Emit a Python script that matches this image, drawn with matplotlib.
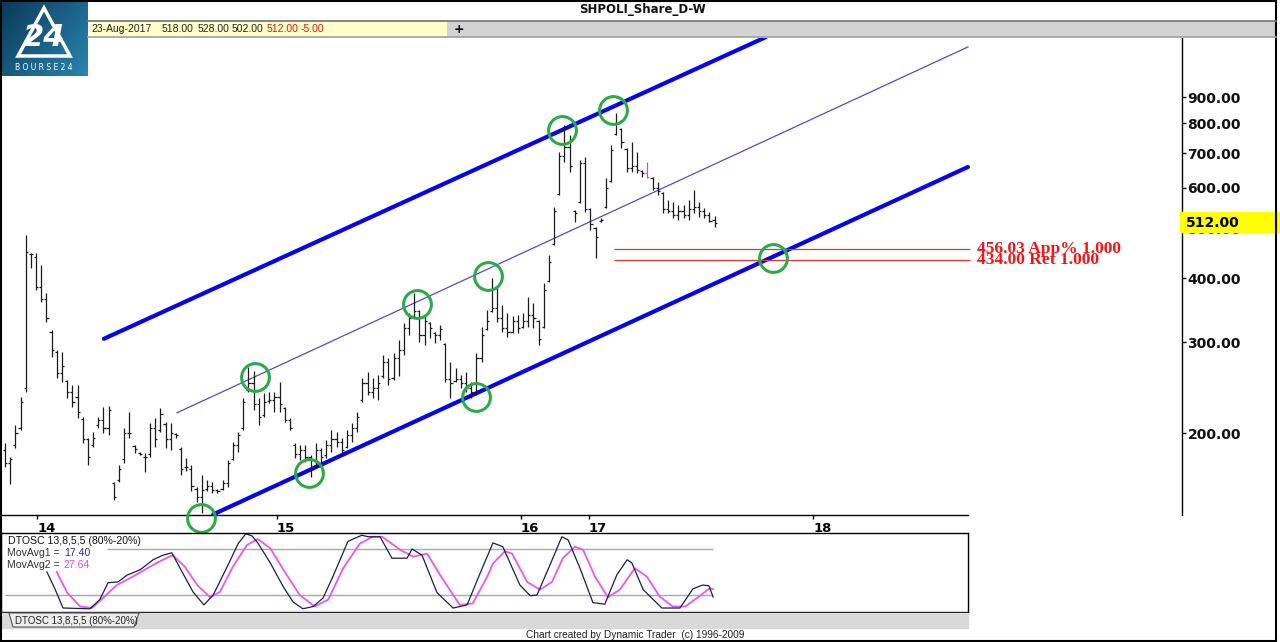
import numpy as np
import matplotlib
matplotlib.use("Agg")
import matplotlib.pyplot as plt
import matplotlib.transforms as mtransforms
from matplotlib.patches import Rectangle, Polygon
from matplotlib.ticker import NullLocator

# ------------------------------------------------------------------
# Weekly OHLC bars (SHPOLI), oldest first
# ------------------------------------------------------------------
highs = [191, 180, 207, 235, 485, 448, 448, 424, 374, 317,
         290, 287, 254, 248, 248, 215, 196, 201, 215, 225,
         226, 161, 173, 205, 220, 190, 184, 183, 209, 214,
         224, 210, 209, 200, 188, 179, 173, 157, 166, 162,
         161, 156, 162, 177, 192, 201, 234, 269, 264, 234,
         239, 240, 240, 251, 225, 214, 191, 190, 190, 181,
         191, 187, 194, 203, 201, 196, 203, 209, 220, 256,
         263, 256, 259, 284, 280, 286, 303, 327, 342, 374,
         347, 339, 329, 314, 324, 299, 275, 268, 259, 263,
         251, 286, 321, 347, 400, 383, 355, 342, 338, 339,
         342, 368, 358, 332, 391, 444, 550, 704, 794, 759,
         543, 679, 688, 548, 503, 524, 626, 726, 838, 783,
         716, 736, 704, 649, 673, 629, 615, 588, 568, 562,
         555, 555, 568, 593, 562, 548, 538, 528]
lows = [172, 159, 187, 203, 240, 419, 379, 359, 329, 281,
        256, 251, 234, 225, 214, 191, 173, 188, 205, 200,
        198, 148, 161, 175, 196, 183, 181, 168, 180, 188,
        201, 187, 185, 196, 166, 169, 154, 147, 140, 154,
        153, 153, 155, 157, 177, 184, 203, 240, 222, 207,
        215, 229, 220, 220, 210, 203, 179, 177, 176, 164,
        171, 173, 179, 184, 188, 181, 187, 192, 201, 230,
        237, 234, 232, 256, 248, 254, 258, 284, 310, 335,
        301, 297, 306, 299, 303, 251, 234, 251, 245, 240,
        234, 237, 275, 317, 344, 329, 314, 307, 313, 313,
        320, 321, 320, 297, 320, 393, 464, 580, 673, 643,
        514, 560, 538, 496, 438, 514, 548, 615, 759, 716,
        643, 643, 640, 629, 626, 593, 580, 535, 535, 524,
        519, 524, 519, 535, 526, 524, 515, 502]
opens = [185, 175, 190, 205, 245, 446, 440, 385, 365, 315,
         288, 262, 252, 240, 235, 213, 195, 190, 207, 212,
         205, 160, 162, 178, 200, 189, 183, 180, 182, 205,
         203, 208, 195, 199, 186, 172, 170, 156, 150, 156,
         158, 155, 156, 160, 178, 190, 205, 242, 250, 228,
         217, 231, 232, 235, 224, 212, 190, 182, 185, 180,
         173, 185, 181, 190, 195, 192, 188, 198, 205, 232,
         250, 240, 245, 258, 275, 256, 280, 290, 320, 338,
         345, 310, 328, 313, 310, 298, 255, 252, 255, 250,
         245, 240, 280, 318, 345, 350, 335, 320, 315, 330,
         321, 330, 340, 330, 322, 395, 466, 582, 690, 720,
         540, 562, 670, 545, 500, 516, 550, 618, 762, 780,
         712, 655, 660, 645, 640, 626, 600, 585, 545, 540,
         530, 540, 530, 545, 550, 540, 530, 518]
closes = [175, 178, 200, 230, 450, 445, 385, 365, 335, 290,
          262, 270, 240, 230, 220, 195, 180, 196, 212, 205,
          222, 150, 170, 200, 200, 186, 182, 180, 205, 195,
          218, 195, 200, 198, 170, 172, 158, 150, 155, 158,
          155, 154, 160, 175, 190, 198, 230, 250, 228, 215,
          230, 232, 235, 228, 212, 205, 182, 185, 180, 170,
          185, 180, 190, 195, 192, 185, 198, 205, 215, 250,
          240, 245, 250, 275, 255, 280, 290, 320, 335, 345,
          310, 330, 320, 310, 318, 255, 250, 255, 250, 245,
          240, 280, 310, 330, 350, 335, 320, 315, 330, 320,
          330, 340, 335, 305, 380, 430, 540, 690, 720, 660,
          535, 670, 545, 510, 480, 520, 600, 710, 800, 735,
          655, 660, 650, 640, 630, 600, 590, 545, 540, 530,
          540, 530, 545, 550, 540, 530, 517, 512]
highlight_bar = 124
last_date = "23-Aug-2017"

# year ticks (bar index) and labels
year_pos = [6.2, 52.5, 99.6, 112.7, 156.0]
year_lbl = ["14", "15", "16", "17", "18"]
price_ticks = [200, 300, 400, 500, 600, 700, 800, 900]

# channel lines: (bar index, price) anchors
upper_line = [(19.1, 305.0), (146.9, 1177.0)]
lower_line = [(40.2, 139.0), (185.9, 658.0)]
middle_line = [(33.2, 219.0), (185.9, 1126.0)]

# green circles at the channel touches
circle_x = [37.8, 48.3, 58.7, 79.5, 90.9, 93.2, 107.5, 117.4, 148.3]
circle_p = [137, 257, 167, 356, 235, 404, 776, 849, 438]

# projection levels
fib_levels = [456.03, 434.00]
fib_labels = ["456.03 App% 1.000", "434.00 Ret 1.000"]
fib_start, fib_end = 117.6, 186.3

# DTOSC oscillator
fast_x = [8.1, 9.7, 11.2, 16.4, 18.3, 19.9, 21.8, 23.6, 26.1, 28.6, 30.5, 32.2,
          34.2, 36.3, 38.4, 40.2, 42.9, 45.0, 46.5, 47.7, 48.8, 51.2, 53.7, 55.6,
          57.5, 59.5, 61.4, 63.3, 66.2, 68.9, 70.1, 72.4, 74.7, 77.6, 78.6, 80.5,
          83.4, 86.5, 89.2, 91.7, 94.2, 96.1, 99.4, 101.4, 102.7, 105.2, 107.5,
          108.7, 111.0, 113.5, 115.8, 118.1, 120.1, 121.0, 123.2, 126.8, 130.3,
          132.8, 134.7, 135.9, 136.7]
fast_v = [50, 27, 3, 2, 14, 36, 37, 46, 53, 66, 72, 75,
          50, 24, 7, 20, 57, 87, 100, 97, 88, 62, 31, 11,
          2, 5, 16, 44, 90, 98, 96, 96, 68, 68, 80, 72,
          23, 3, 7, 48, 88, 83, 33, 19, 20, 59, 96,
          92, 55, 10, 8, 46, 66, 62, 27, 3, 3,
          28, 33, 32, 17.40]
slow_x = [10.0, 12.0, 14.5, 16.8, 18.9, 21.6, 24.7, 28.0, 30.5, 32.4, 34.7, 37.1,
          39.6, 41.5, 44.0, 46.7, 48.8, 51.2, 54.4, 56.9, 59.8, 62.4, 65.3, 68.5,
          71.0, 72.8, 76.3, 78.8, 81.5, 84.0, 87.8, 90.3, 93.1, 94.2, 96.5, 97.9,
          100.8, 103.3, 105.6, 107.7, 110.0, 111.6, 113.9, 116.4, 118.7, 121.6,
          123.9, 126.4, 128.9, 131.3, 133.6, 136.1, 136.7]
slow_v = [50, 23, 5, 3, 16, 33, 44, 57, 66, 72, 57, 33,
          17, 24, 57, 85, 93, 81, 46, 20, 5, 14, 55, 87,
          96, 96, 79, 70, 74, 46, 7, 9, 44, 61, 77, 74,
          37, 27, 37, 68, 83, 79, 44, 17, 27, 55,
          44, 18, 5, 5, 16, 29, 27.64]

# ------------------------------------------------------------------
# Layout helpers (pixel boxes of the 1280x642 screenshot)
# ------------------------------------------------------------------
W, H = 1280, 642
BAR0, BARW = 5.0, 5.18


def fbox(x0, y0, x1, y1):
    return [x0 / W, 1 - y1 / H, (x1 - x0) / W, (y1 - y0) / H]


def bar_at(px):
    return (px - BAR0) / BARW


plt.rcParams.update({
    "font.family": "DejaVu Sans",
    "figure.facecolor": "white",
})

fig = plt.figure(figsize=(W / 100, H / 100), dpi=100)

# ------------------------------------------------------------------
# Main price pane
# ------------------------------------------------------------------
ax = fig.add_axes(fbox(0, 38, 1182, 515))
ax.set_xlim(bar_at(0), bar_at(1182))
ax.set_yscale("log")
ax.set_ylim(138.6, 1172)

x = np.arange(len(highs))
bar_col = ["#dd44dd" if i == highlight_bar else "#1a1a1a" for i in x]
ax.vlines(x, lows, highs, colors=bar_col, lw=0.9, zorder=3)
ax.hlines(opens, x - 0.42, x, colors=bar_col, lw=0.9, zorder=3)
ax.hlines(closes, x, x + 0.42, colors=bar_col, lw=0.9, zorder=3)

for line in (upper_line, lower_line):
    (x0, p0), (x1, p1) = line
    ax.plot([x0, x1], [p0, p1], color="#0505e8", lw=3.0,
            solid_capstyle="round", zorder=2)
(x0, p0), (x1, p1) = middle_line
ax.plot([x0, x1], [p0, p1], color="#5548d8", lw=0.9, zorder=2)

ax.hlines(fib_levels, fib_start, fib_end, colors="#ee3030", lw=0.9, zorder=2)
for lvl, lbl in zip(fib_levels, fib_labels):
    ax.text(bar_at(977), lvl, lbl, color="#ff1010", fontsize=12.5,
            family="Liberation Serif", fontweight="bold", va="center",
            ha="left", clip_on=False, zorder=4)

ax.plot(circle_x, circle_p, "o", ms=20, mfc="none", mec="#2daa48",
        mew=2.2, clip_on=False, zorder=5)

for side in ("top", "left"):
    ax.spines[side].set_visible(False)
ax.spines["right"].set_linewidth(1.0)
ax.spines["bottom"].set_linewidth(1.0)
ax.spines["bottom"].set_bounds(bar_at(0), bar_at(968))

ax.yaxis.tick_right()
ax.set_yticks(price_ticks)
ax.set_yticklabels([f"{p:.2f}" for p in price_ticks])
ax.yaxis.set_minor_locator(NullLocator())
ax.tick_params(axis="y", direction="out", length=3, width=1, pad=1,
               labelsize=10, colors="#111111")
for t in ax.get_yticklabels():
    t.set_fontweight("bold")

ax.set_xticks(year_pos)
ax.set_xticklabels(year_lbl)
ax.tick_params(axis="x", direction="out", length=3, width=1, pad=2,
               labelsize=9.5)
for t in ax.get_xticklabels():
    t.set_fontweight("bold")
    t.set_horizontalalignment("left")

# last price highlight
trans = mtransforms.blended_transform_factory(ax.transAxes, ax.transData)
ax.add_patch(Rectangle((1180 / 1182, 492), 100 / 1182, 538 - 492,
                       transform=trans, color="#ffff00", clip_on=False,
                       zorder=6))
ax.text(1 + 4 / 1182, closes[-1], f"{closes[-1]:.2f}", transform=trans,
        ha="left", va="center", fontsize=10, fontweight="bold",
        clip_on=False, zorder=7)

# ------------------------------------------------------------------
# Oscillator pane
# ------------------------------------------------------------------
ax2 = fig.add_axes(fbox(1, 533, 968, 612))
ax2.set_xlim(bar_at(1), bar_at(968))
ax2.set_ylim(-2.2, 100.9)
ax2.set_xticks([])
ax2.set_yticks([])
for s in ax2.spines.values():
    s.set_linewidth(1.0)
ax2.hlines(80, bar_at(107), bar_at(713), color="#a8a8a8", lw=1.0)
ax2.hlines(20, bar_at(5), bar_at(713), color="#a8a8a8", lw=1.0)
ax2.plot(slow_x, slow_v, color="#ee55ee", lw=1.3)
ax2.plot(fast_x, fast_v, color="#1c1c50", lw=0.9)

small = dict(family="Liberation Sans", fontsize=7.6, va="center", ha="left")
fig.text(8 / W, 1 - 541 / H, "DTOSC 13,8,5,5 (80%-20%)", color="#111111", **small)
fig.text(7 / W, 1 - 553 / H, "MovAvg1 =", color="#333333", **small)
fig.text(64 / W, 1 - 553 / H, f"{fast_v[-1]:.2f}", color="#2a2a8a", **small)
fig.text(7 / W, 1 - 564.5 / H, "MovAvg2 =", color="#333333", **small)
fig.text(64 / W, 1 - 564.5 / H, f"{slow_v[-1]:.2f}", color="#ee44ee", **small)

# tab strip under the oscillator
fig.patches.append(Rectangle((0, 1 - 628 / H), 968 / W, 15 / H,
                             transform=fig.transFigure, color="#d9d9d9"))
tab = [(9, 613), (139, 613), (134, 627), (13, 627)]
fig.patches.append(Polygon([(px / W, 1 - py / H) for px, py in tab],
                           closed=True, transform=fig.transFigure,
                           fc="#eeeeee", ec="#555555", lw=0.8))
fig.text(15 / W, 1 - 620.5 / H, "DTOSC 13,8,5,5 (80%-20%)", color="#222222",
         family="Liberation Sans", fontsize=7, va="center", ha="left")

fig.text(526 / W, 1 - 634.5 / H, "Chart created by Dynamic Trader  (c) 1996-2009",
         color="#222222", family="Liberation Sans", fontsize=7.3,
         va="center", ha="left")

# ------------------------------------------------------------------
# Header: title, toolbar, logo
# ------------------------------------------------------------------
fig.text(642 / W, 1 - 10 / H, "SHPOLI_Share_D-W", ha="center", va="center",
         fontsize=8.5, fontweight="bold", color="#111111")

fig.patches.append(Rectangle((447 / W, 1 - 37 / H), (1276 - 447) / W, 16 / H,
                             transform=fig.transFigure, fc="#d3d3d3",
                             ec="none"))
fig.patches.append(Rectangle((90 / W, 1 - 37 / H), (447 - 90) / W, 16 / H,
                             transform=fig.transFigure, fc="#ffffcc",
                             ec="none"))
for yy, col in ((21, "#707070"), (37, "#a0a0a0")):
    fig.lines.append(plt.Line2D([88 / W, 1276 / W], [1 - yy / H, 1 - yy / H],
                                transform=fig.transFigure, color=col, lw=1.2))

change = closes[-1] - closes[-2]
bar_info = [(last_date, 91, "#222222"), (f"{opens[-1]:.2f}", 162, "#222222"),
            (f"{highs[-1]:.2f}", 198, "#222222"), (f"{lows[-1]:.2f}", 232, "#222222"),
            (f"{closes[-1]:.2f}", 267, "#ee1111"), (f"{change:.2f}", 301, "#ee1111")]
for txt, px, col in bar_info:
    fig.text(px / W, 1 - 29.5 / H, txt, color=col, family="Liberation Sans",
             fontsize=7.5, va="center", ha="left")
fig.text(459 / W, 1 - 29.5 / H, "+", fontsize=9, fontweight="bold",
         va="center", ha="center")

# logo
lax = fig.add_axes(fbox(0, 0, 88, 76))
grad = np.linspace(0, 1, 100)[None, :] * 0.6 + np.linspace(0, 1, 80)[:, None] * 0.4
lax.imshow(grad, cmap=plt.matplotlib.colors.LinearSegmentedColormap.from_list(
    "logo", ["#0a3857", "#2a86b0"]), aspect="auto", extent=(0, 88, 76, 0))
lax.fill([44, 70, 18], [8, 56, 56], fc="none", ec="white", lw=2.5)
lax.text(44, 38, "24", color="white", fontsize=22, fontweight="bold",
         style="italic", ha="center", va="center")
lax.text(44, 68, "B O U R S E 2 4", color="white", fontsize=5.5,
         ha="center", va="center")
lax.set_xlim(0, 88)
lax.set_ylim(76, 0)
lax.axis("off")

# outer frame
fig.patches.append(Rectangle((0.001, 0.001), 0.996, 0.998,
                             transform=fig.transFigure, fill=False,
                             ec="black", lw=1.5))

fig.savefig("out.png", dpi=100)
